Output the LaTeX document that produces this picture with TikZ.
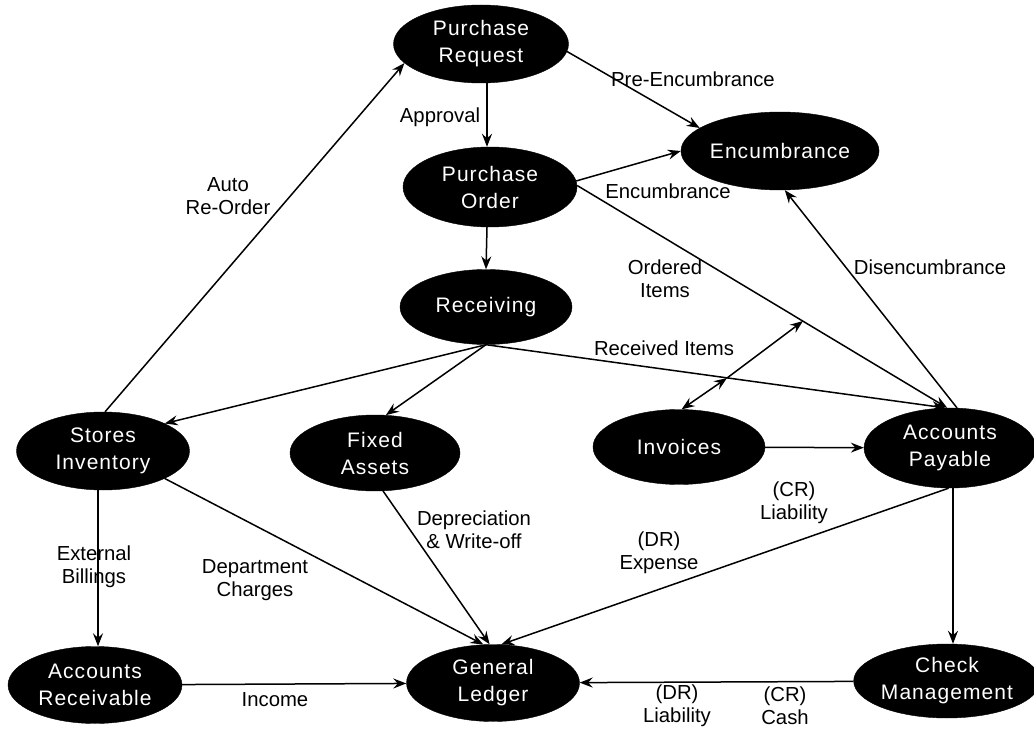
\documentclass[tikz,border=0pt]{standalone}
\usepackage{fontspec}
\setmainfont{Liberation Sans}
\newfontfamily\nodefont[LetterSpace=5]{Liberation Sans}
\usetikzlibrary{shapes.geometric,arrows.meta}
\begin{document}
\begin{tikzpicture}[x=1pt,y=-1pt,
  blob/.style={ellipse,fill=black,draw=black,text=white,inner sep=0pt,align=center,
    font=\nodefont\fontsize{21}{27}\selectfont},
  lab/.style={align=center,inner sep=0pt,font=\fontsize{20.3}{23}\selectfont},
  conn/.style={line width=1.5pt,-{Stealth[length=13pt,width=10pt,inset=4.5pt]}},
  biconn/.style={line width=1.5pt,{Stealth[length=13pt,width=10pt,inset=4.5pt]}-{Stealth[length=13pt,width=10pt,inset=4.5pt]}}]
\useasboundingbox (0,0) rectangle (1034,730);
% nodes
\node[blob,minimum width=175pt,minimum height=78pt] (pr) at (481,44) {Purchase\\Request};
\node[blob,minimum width=175pt,minimum height=78pt] (enc) at (780,151) {Encumbrance};
\node[blob,minimum width=174pt,minimum height=80pt] (po) at (490,187) {Purchase\\Order};
\node[blob,minimum width=172pt,minimum height=75pt] (rec) at (486,307) {Receiving};
\node[blob,minimum width=173pt,minimum height=78pt] (stores) at (103,451) {Stores\\Inventory};
\node[blob,minimum width=170pt,minimum height=76pt] (fixed) at (375,453) {Fixed\\Assets};
\node[blob,minimum width=172pt,minimum height=75pt] (inv) at (679,447) {Invoices};
\node[blob,minimum width=172pt,minimum height=80pt] (ap) at (950,448) {Accounts\\Payable};
\node[blob,minimum width=174pt,minimum height=77pt] (ar) at (95,685) {Accounts\\Receivable};
\node[blob,minimum width=173pt,minimum height=77pt] (gl) at (493,683) {General\\Ledger};
\node[blob,minimum width=174pt,minimum height=74pt] (chk) at (947,681) {Check\\Management};
\coordinate (c1) at (727,378);
\coordinate (c2) at (803,321);
% connectors
\draw[conn] (stores.87) -- (pr.194);
\draw[conn] ([xshift=6pt]pr.south) -- ([xshift=-3pt]po.north);
\draw[conn] ([xshift=-3pt]po.south) -- (rec.north);
\draw[conn] (pr.355) -- (enc.164);
\draw[conn] (po.4) -- (enc.180);
\draw[conn] (po.1) -- (ap.94);
\draw[conn] (ap.80) -- (enc.277);
\draw[conn] (rec.south) -- (stores.24);
\draw[conn] (rec.south) -- (fixed.74);
\draw[conn] (rec.south) -- (ap.97);
\draw[biconn] (inv.86) -- (c1);
\draw[conn] (c1) -- (c2);
\draw[conn] (inv) -- (ap);
\draw[conn] ([xshift=-5pt]stores.south) -- ([xshift=3pt]ar.north);
\draw[conn] (stores.336) -- (gl.104);
\draw[conn] (fixed.282) -- (gl.95);
\draw[conn] (ap.268) -- (gl.78);
\draw[conn] (ar) -- (gl);
\draw[conn] (chk) -- (gl);
\draw[conn] ([xshift=3pt]ap.south) -- ([xshift=6pt]chk.north);
% labels
\node[lab] (l1) at (228,196) {Auto\\Re-Order};
\node[lab] (l2) at (440,117) {Approval};
\node[lab] (l3) at (693,79) {Pre-Encumbrance};
\node[lab] (l4) at (668,191) {Encumbrance};
\node[lab] (l5) at (665,279) {Ordered\\Items};
\node[lab] (l6) at (930,267) {Disencumbrance};
\node[lab] (l7) at (664,348) {Received Items};
\node[lab] (l8) at (94,567) {External\\Billings};
\node[lab] (l9) at (255,580) {Department\\Charges};
\node[lab] (l10) at (474,530) {Depreciation\\\& Write-off};
\node[lab] (l11) at (794,503) {(CR)\\Liability};
\node[lab] (l12) at (659,553) {(DR)\\Expense};
\node[lab] (l13) at (275,700) {Income};
\node[lab] (l14) at (677,706) {(DR)\\Liability};
\node[lab] (l15) at (785,706) {(CR)\\Cash};
\end{tikzpicture}
\end{document}
